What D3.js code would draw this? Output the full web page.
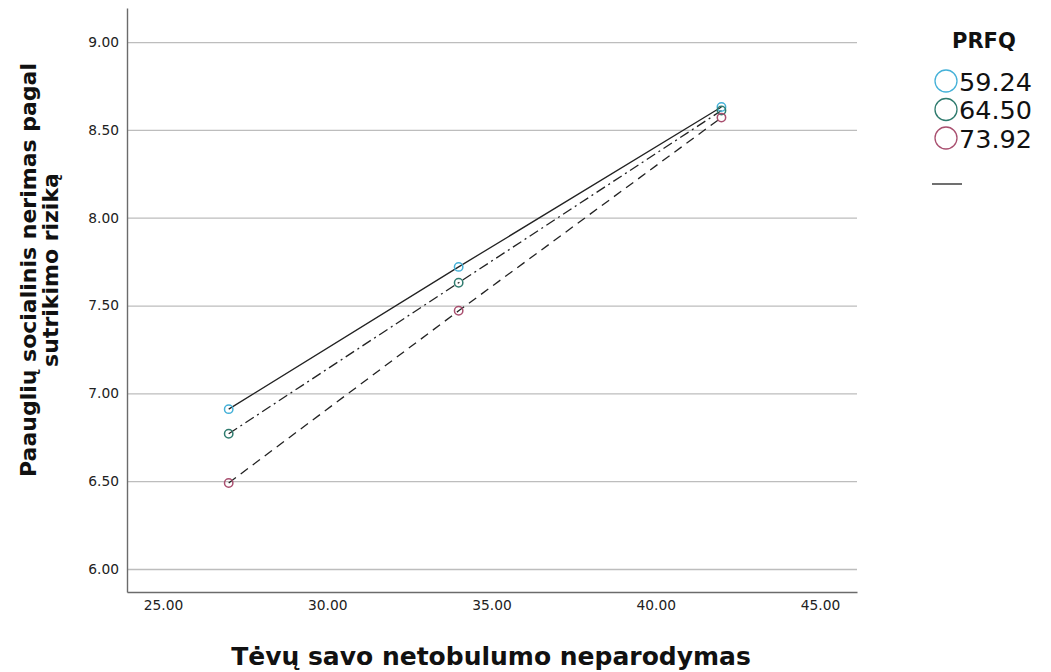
<!DOCTYPE html>
<html><head><meta charset="utf-8">
<script src="https://cdn.jsdelivr.net/npm/d3@7"></script>
<style>body{margin:0;background:#fff;}svg{display:block;}</style>
</head><body>
<svg id="chart" width="1051" height="672"></svg>
<script>
const xValues = [27, 34, 42];
const groups = ["59.24", "64.50", "73.92"];
const y5924 = [6.91, 7.72, 8.63];
const y6450 = [6.77, 7.63, 8.61];
const y7392 = [6.49, 7.47, 8.57];
const xTicks = [25, 30, 35, 40, 45];
const yTicks = [6.0, 6.5, 7.0, 7.5, 8.0, 8.5, 9.0];
const colors = ["#45b1d8", "#2f7b6e", "#a94f6f"];
const dashes = [null, "10,4,2,4", "9,6"];
const seriesValues = [y5924, y6450, y7392];

const svg = d3.select("#chart");
const x = d3.scaleLinear().domain([23.904, 46.126]).range([127, 857]);
const y = d3.scaleLinear().domain([5.869, 9.194]).range([592, 8]);

// gridlines
svg.append("g").attr("class","grid")
  .attr("transform","translate(127,0)")
  .call(d3.axisLeft(y).tickValues(yTicks).tickSize(-(857-127)).tickFormat(""))
  .call(g => g.select(".domain").remove())
  .call(g => g.selectAll("line").attr("stroke","#bdbdbd").attr("stroke-width",1.3));

// y axis
const yAxis = svg.append("g").attr("transform","translate(127,0)")
  .call(d3.axisLeft(y).tickValues(yTicks).tickSize(0).tickPadding(8).tickFormat(d3.format(".2f")));
yAxis.select(".domain").attr("stroke","#6b6b6b").attr("stroke-width",1.4);
yAxis.selectAll("text").attr("font-family","DejaVu Sans, sans-serif").attr("font-size",13.8).attr("fill","#222");

// x axis
const xAxis = svg.append("g").attr("transform","translate(0,592)")
  .call(d3.axisBottom(x).tickValues(xTicks).tickSize(0).tickPadding(8).tickFormat(d3.format(".2f")));
xAxis.select(".domain").attr("stroke","#6b6b6b").attr("stroke-width",1.4);
xAxis.selectAll("text").attr("font-family","DejaVu Sans, sans-serif").attr("font-size",13.8).attr("fill","#222");

// lines
const line = d3.line().x((d,i) => x(xValues[i])).y(d => y(d));
seriesValues.forEach((vals, k) => {
  svg.append("path").datum(vals)
    .attr("d", line)
    .attr("fill","none")
    .attr("stroke","#222")
    .attr("stroke-width",1.3)
    .attr("stroke-dasharray", dashes[k]);
});
// points
seriesValues.forEach((vals, k) => {
  svg.append("g").selectAll("circle").data(vals).join("circle")
    .attr("cx",(d,i) => x(xValues[i]))
    .attr("cy", d => y(d))
    .attr("r",4.2)
    .attr("fill","none")
    .attr("stroke",colors[k])
    .attr("stroke-width",1.5);
});

// axis titles
svg.append("text")
  .attr("x",491).attr("y",665)
  .attr("text-anchor","middle")
  .attr("font-family","DejaVu Sans, sans-serif").attr("font-weight","bold")
  .attr("font-size",25).attr("fill","#111")
  .text("Tėvų savo netobulumo neparodymas");

const yt = svg.append("text")
  .attr("transform","translate(0,270) rotate(-90)")
  .attr("text-anchor","middle")
  .attr("font-family","DejaVu Sans, sans-serif").attr("font-weight","bold")
  .attr("font-size",22).attr("fill","#111");
yt.append("tspan").attr("x",0).attr("y",36).text("Paauglių socialinis nerimas pagal");
yt.append("tspan").attr("x",0).attr("y",58).text("sutrikimo riziką");

// legend
const lg = svg.append("g");
lg.append("text").attr("x",952).attr("y",48)
  .attr("font-family","DejaVu Sans, sans-serif").attr("font-weight","bold")
  .attr("font-size",21).attr("fill","#111").text("PRFQ");
groups.forEach((g, k) => {
  const cy = 81 + k*28.5;
  lg.append("circle").attr("cx",946).attr("cy",cy).attr("r",11)
    .attr("fill","none").attr("stroke",colors[k]).attr("stroke-width",1.3);
  lg.append("text").attr("x",959).attr("y",cy+9.5)
    .attr("font-family","DejaVu Sans, sans-serif")
    .attr("font-size",25.5).attr("fill","#111").text(g);
});
lg.append("line").attr("x1",932).attr("x2",962).attr("y1",184).attr("y2",184)
  .attr("stroke","#222").attr("stroke-width",1.3);
</script>
</body></html>
